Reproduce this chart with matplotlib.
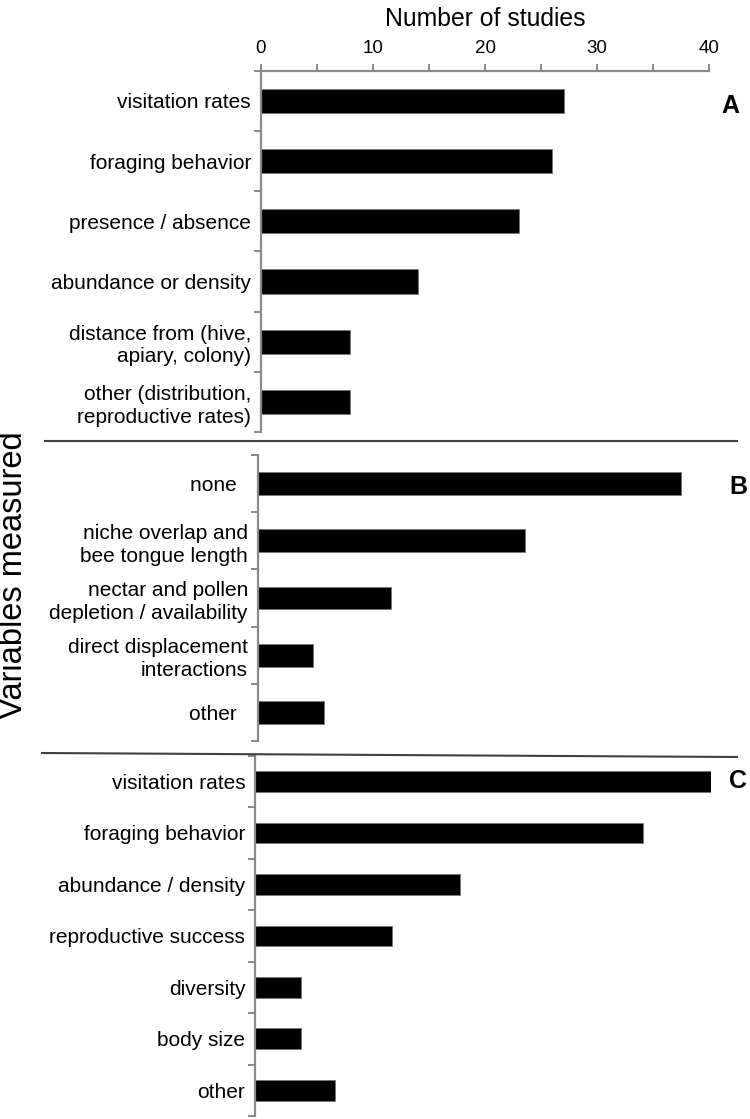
import numpy as np
import matplotlib
matplotlib.use("Agg")
import matplotlib.pyplot as plt
from matplotlib.ticker import MultipleLocator, FixedLocator, NullFormatter
from matplotlib.lines import Line2D

plt.rcParams['font.family'] = ['Liberation Sans', 'DejaVu Sans']

# panel A
labels_a = ["visitation rates", "foraging behavior", "presence / absence",
            "abundance or density", "distance from (hive,\napiary, colony)",
            "other (distribution,\nreproductive rates)"]
values_a = [27, 26, 23, 14, 8, 8]

# panel B
labels_b = ["none  ", "niche overlap and\nbee tongue length",
            "nectar and pollen\ndepletion / availability",
            "direct displacement\ninteractions", "other  "]
values_b = [38, 24, 12, 5, 6]

# panel C
labels_c = ["visitation rates", "foraging behavior", "abundance / density",
            "reproductive success", "diversity", "body size", "other"]
values_c = [40, 34, 18, 12, 4, 4, 7]

W, H = 750, 1119
fig = plt.figure(figsize=(W / 100, H / 100), dpi=100)


def px_axes(left, right, top, bottom):
    return fig.add_axes([left / W, 1 - bottom / H, (right - left) / W, (bottom - top) / H])


gray = '#8a8a8a'


def panel(ax, labels, values, top_axis=False):
    n = len(values)
    y = np.arange(n)
    ax.barh(y, values, height=0.4, color='black', edgecolor='#777777', linewidth=0.6)
    ax.set_xlim(0, 40)
    ax.set_ylim(n - 0.5, -0.5)
    for s in ['right', 'bottom', 'top']:
        ax.spines[s].set_visible(False)
    ax.spines['left'].set_color(gray)
    ax.spines['left'].set_linewidth(1.6)
    # tick marks at category boundaries, labels at the centres
    ax.yaxis.set_major_locator(FixedLocator(np.arange(n + 1) - 0.5))
    ax.yaxis.set_major_formatter(NullFormatter())
    ax.yaxis.set_minor_locator(FixedLocator(y))
    ax.set_yticklabels(labels, minor=True, fontsize=15, linespacing=1.25)
    ax.tick_params(axis='y', which='major', length=5, width=1.4, color=gray)
    ax.tick_params(axis='y', which='minor', length=0, pad=7)
    if top_axis:
        ax.spines['top'].set_visible(True)
        ax.spines['top'].set_color(gray)
        ax.spines['top'].set_linewidth(1.6)
        ax.xaxis.tick_top()
        ax.xaxis.set_label_position('top')
        ax.xaxis.set_major_locator(MultipleLocator(10))
        ax.xaxis.set_minor_locator(MultipleLocator(5))
        ax.tick_params(axis='x', which='both', length=5, width=1.4, color=gray,
                       labelsize=13.5, pad=5)
        ax.set_xlabel("Number of studies", fontsize=17.8, labelpad=10)
    else:
        ax.set_xticks([])


ax_a = px_axes(260.7, 709.3, 70.7, 432)
panel(ax_a, labels_a, values_a, top_axis=True)
fig.text(730 / W, 1 - 106 / H, "A", fontsize=18, fontweight='bold', ha='center', va='center')

ax_b = px_axes(257.7, 702.9, 455, 741)
panel(ax_b, labels_b, values_b)
fig.text(738 / W, 1 - 487 / H, "B", fontsize=18, fontweight='bold', ha='center', va='center')

ax_c = px_axes(255, 711, 755.7, 1116)
panel(ax_c, labels_c, values_c)
fig.text(738 / W, 1 - 781 / H, "C", fontsize=18, fontweight='bold', ha='center', va='center')

# separator lines between the panels
fig.add_artist(Line2D([45 / W, 737 / W], [1 - 441 / H, 1 - 441 / H], color='#404040', lw=1.5))
fig.add_artist(Line2D([42 / W, 737 / W], [1 - 753 / H, 1 - 757 / H], color='#404040', lw=1.5))

fig.text(14 / W, 1 - 575 / H, "Variables measured", rotation=90, fontsize=23.5,
         ha='center', va='center')

fig.savefig("out.png", dpi=100)
